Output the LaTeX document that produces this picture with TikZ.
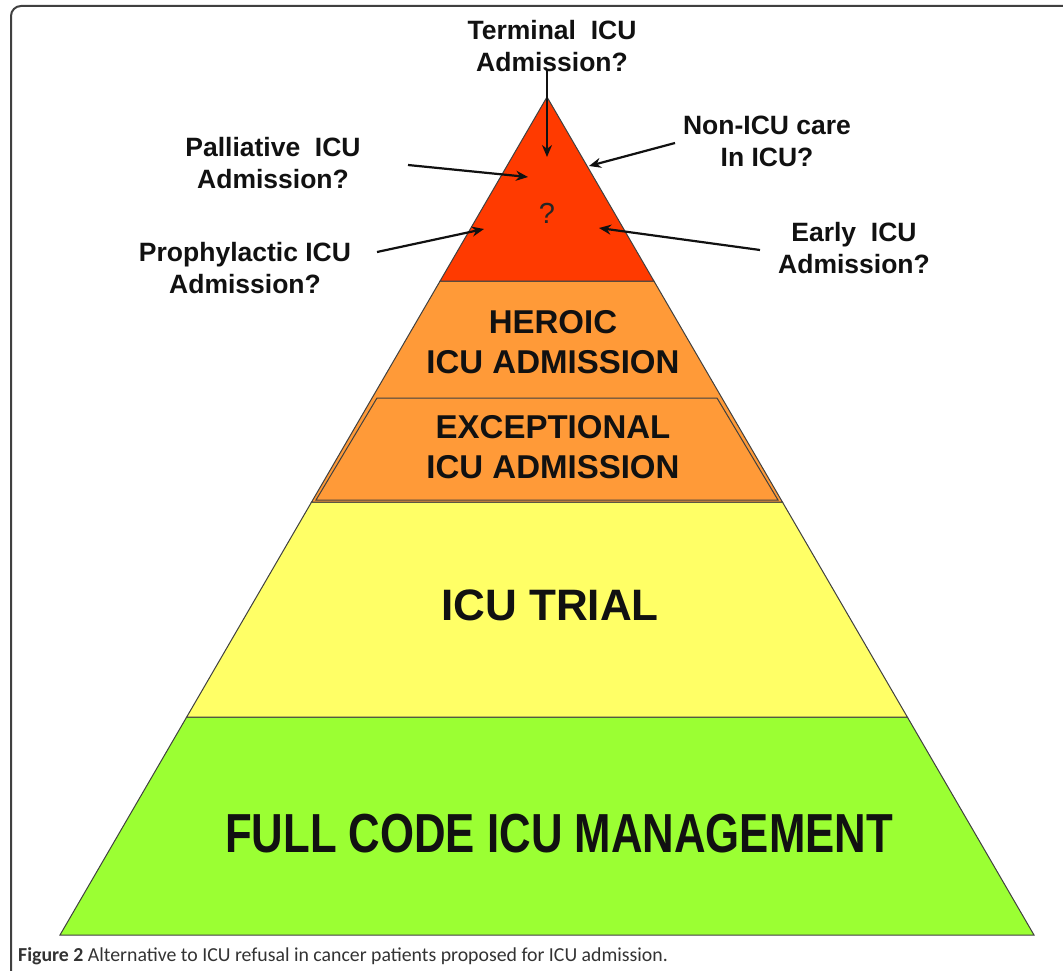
\documentclass[tikz,border=0pt]{standalone}
\usepackage{fontspec}
\setmainfont{Liberation Sans}
\newfontfamily\capfont{Carlito}
\usetikzlibrary{arrows.meta}
\definecolor{redtop}{HTML}{FF3A00}
\definecolor{orng}{HTML}{FF9A38}
\definecolor{yell}{HTML}{FFFF66}
\definecolor{grn}{HTML}{9BFF33}
\definecolor{ink}{HTML}{111111}
\tikzset{
  layer/.style={draw=black!75, line width=1pt, line join=miter},
  lbl/.style={font=\fontsize{26.5}{32}\selectfont\bfseries, text=ink, align=center, inner sep=0pt},
  big/.style={font=\fontsize{33}{40}\selectfont\bfseries, text=ink, align=center, inner sep=0pt},
  arr/.style={-{Stealth[length=12pt,width=10pt]}, line width=2.2pt, draw=ink},
}
\begin{document}
\begin{tikzpicture}[x=1pt,y=-1pt]
\useasboundingbox (0,0) rectangle (1063,971);
\fill[white] (0,0) rectangle (1063,971);
% frame
\draw[black!75, line width=2pt, rounded corners=10pt] (11,975) -- (11,6) -- (1070,6);
% layers
\path[layer, fill=grn] (186.7,717) -- (907.3,717) -- (1034,935) -- (60,935) -- cycle;
\path[layer, fill=yell] (311.6,502) -- (782.4,502) -- (907.3,717) -- (186.7,717) -- cycle;
\path[layer, fill=orng] (440.1,281) -- (653.9,281) -- (782.4,502) -- (311.6,502) -- cycle;
\path[layer, fill=orng] (377,398) -- (717,398) -- (778,500) -- (316,500) -- cycle;
\path[layer, fill=redtop] (547,97) -- (653.9,281) -- (440.1,281) -- cycle;
% texts in layers
\node[font=\fontsize{29}{32}\selectfont, text=black!85, inner sep=0pt] (q) at (547,213) {?};
\node[big, anchor=base] (her) at (553,373) {HEROIC\\ICU ADMISSION};
\node[big, anchor=base] (exc) at (553,478) {EXCEPTIONAL\\ICU ADMISSION};
\node[font=\fontsize{44}{50}\selectfont\bfseries, text=ink, inner sep=0pt, anchor=base] (trial) at (550,620) {ICU TRIAL};
\node[font=\fontsize{55}{60}\selectfont\bfseries, text=ink, inner sep=0pt, anchor=base, xscale=0.795] (full) at (559,852) {FULL CODE ICU MANAGEMENT};
% labels
\node[lbl] (term) at (552,46) {Terminal\ \ ICU\\Admission?};
\node[lbl] (pall) at (273,163) {Palliative\ \ ICU\\Admission?};
\node[lbl] (proph) at (245,268) {Prophylactic ICU\\Admission?};
\node[lbl] (nonicu) at (767,141) {Non-ICU care\\In ICU?};
\node[lbl] (early) at (854,248) {Early\ \ ICU\\Admission?};
% arrow ends
\coordinate (termS) at (547,70);
\coordinate (termT) at (547,157);
\coordinate (pallS) at (408,165);
\coordinate (pallT) at (528,177);
\coordinate (prophS) at (377,252);
\coordinate (prophT) at (484,229);
\coordinate (nonS) at (675,143);
\coordinate (nonT) at (589,166);
\coordinate (earlyS) at (760,250);
\coordinate (earlyT) at (599,228);
\draw[arr] (termS) -- (termT);
\draw[arr] (pallS) -- (pallT);
\draw[arr] (prophS) -- (prophT);
\draw[arr] (nonS) -- (nonT);
\draw[arr] (earlyS) -- (earlyT);
% caption
\node[anchor=base west, inner sep=0pt, text=black!80, font=\capfont\fontsize{19.8}{22}\selectfont] (cap) at (18,961) {\textbf{Figure 2} Alternative to ICU refusal in cancer patients proposed for ICU admission.};
\end{tikzpicture}
\end{document}
